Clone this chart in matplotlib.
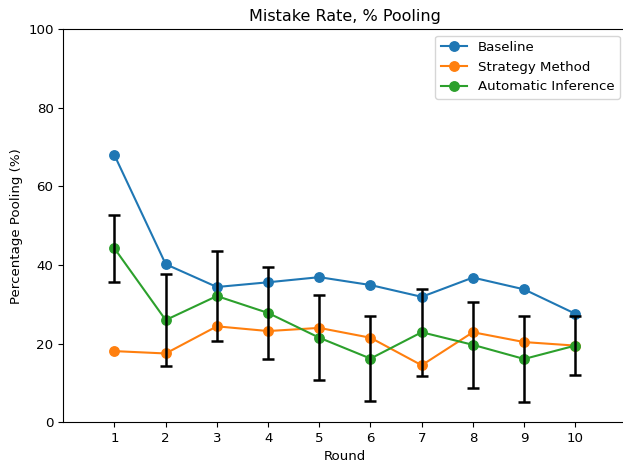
import matplotlib
matplotlib.use('Agg')
import matplotlib.pyplot as plt
import numpy as np

# Données
rounds = np.arange(1, 11)
baseline = [67.9, 40.2, 34.4, 35.6, 36.9, 34.9, 31.9, 36.8, 33.8, 27.6]
strategy = [18.1, 17.5, 24.4, 23.2, 24.0, 21.5, 14.5, 22.9, 20.4, 19.5]
automatic = [44.2, 26.0, 32.1, 27.8, 21.5, 16.2, 22.9, 19.7, 16.1, 19.5]
# demi-largeur des barres d'erreur (Automatic Inference)
auto_err = [8.5, 11.8, 11.5, 11.8, 10.8, 10.7, 11.1, 11.0, 11.0, 7.5]

plt.rcParams['font.size'] = 9.6

fig = plt.figure(figsize=(6.23, 4.63), dpi=100)
ax = fig.add_axes([0.1016, 0.0879, 0.904, 0.8495])

ax.plot(rounds, baseline, marker='o', ms=6.8, label='Baseline')
ax.plot(rounds, strategy, marker='o', ms=6.8, label='Strategy Method')
ax.plot(rounds, automatic, marker='o', ms=6.8, label='Automatic Inference')
ax.errorbar(rounds, automatic, yerr=auto_err, fmt='none', ecolor='black',
            elinewidth=1.8, capsize=4.5, capthick=1.8)

ax.set_xlim(0, 11)
ax.set_ylim(0, 100)
ax.set_xticks(rounds)
ax.set_xlabel('Round', labelpad=3.5)
ax.set_ylabel('Percentage Pooling (%)')
ax.set_title('Mistake Rate, % Pooling')
ax.legend(loc='upper right')

fig.savefig('out.png', dpi=100)
